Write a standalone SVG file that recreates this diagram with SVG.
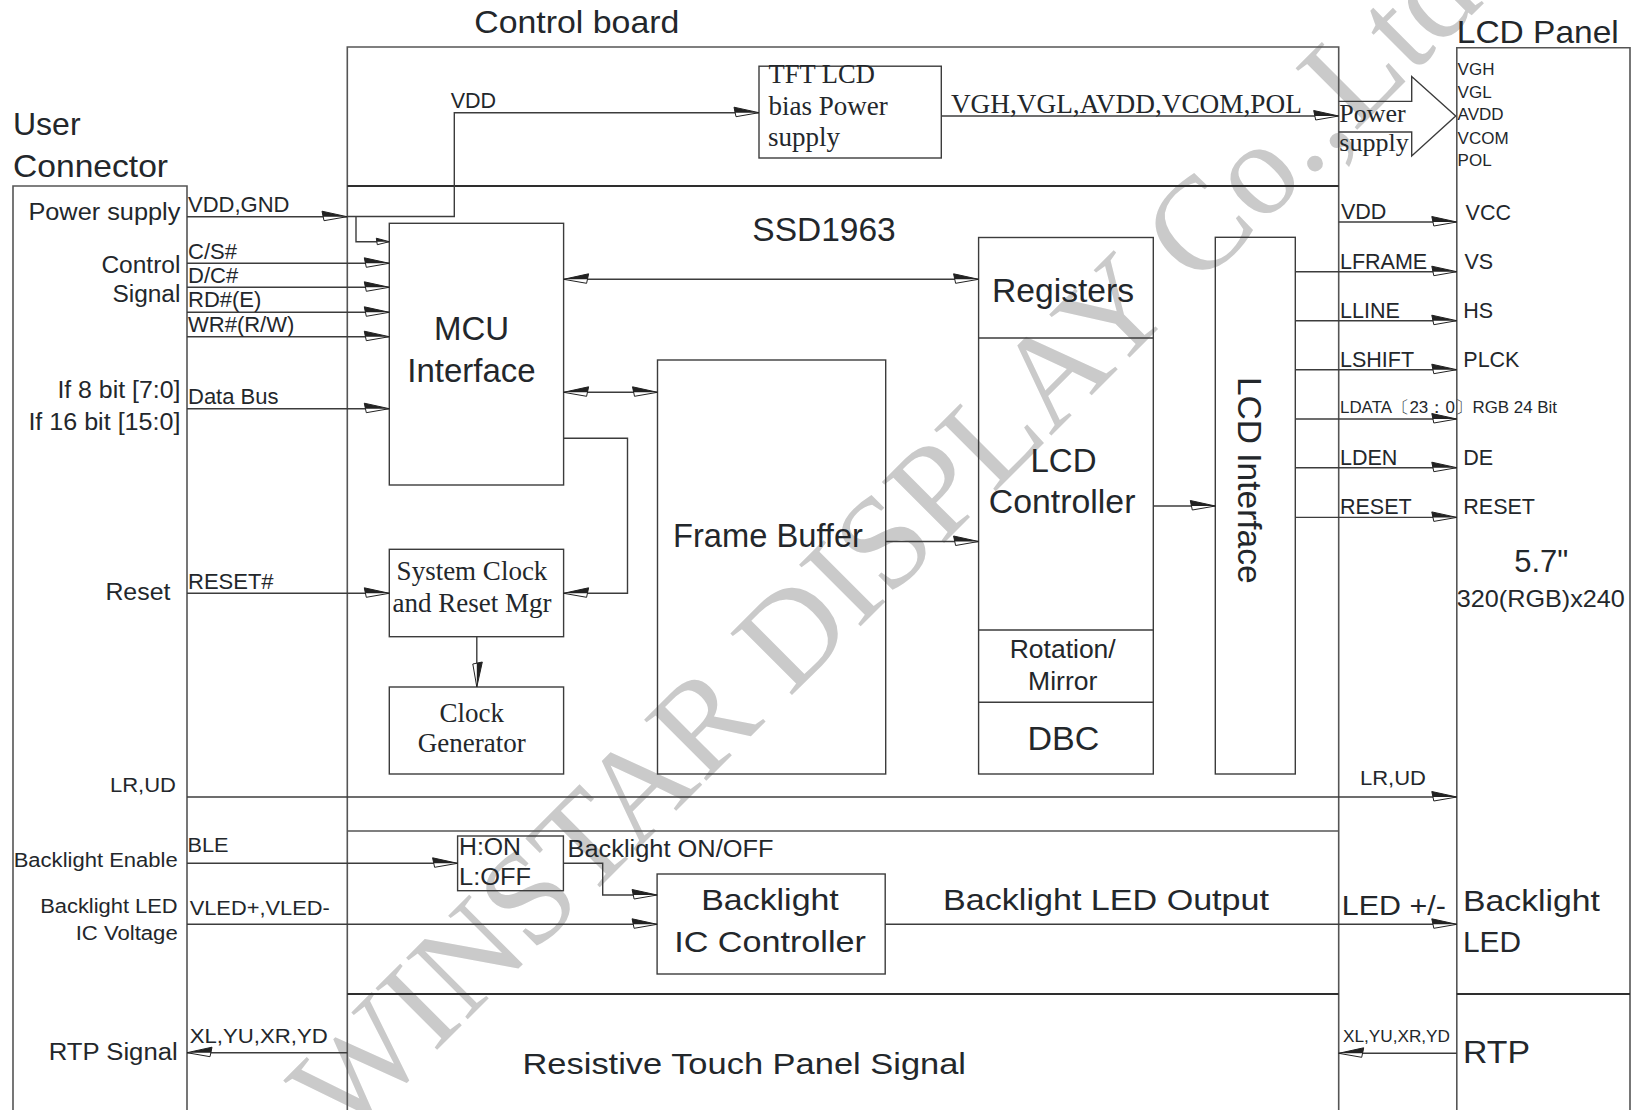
<svg xmlns="http://www.w3.org/2000/svg" width="1632" height="1110" viewBox="0 0 1632 1110">
<style>
.t{font-family:"Liberation Sans",Arial,sans-serif;fill:#23272b}
.s{font-family:"Liberation Serif","Times New Roman",serif;fill:#23272b}
.ln{fill:none;stroke:#3c3c3c;stroke-width:1.4}
.bx{fill:none;stroke:#3c3c3c;stroke-width:1.4}
.fr{fill:none;stroke:#555;stroke-width:1.6}
.dk{fill:none;stroke:#2e2e2e;stroke-width:2.2}
.wm{font-family:"Liberation Serif","Times New Roman",serif;fill:#cacaca}
.m{text-anchor:middle}
.e{text-anchor:end}
</style>
<defs>
<marker id="a" markerUnits="userSpaceOnUse" markerWidth="30" markerHeight="14" viewBox="-28 -7 30 14" refX="0" refY="0" orient="auto" overflow="visible">
<path d="M0,0 L-25,-5.5 L-23,4 Z" fill="#fff" stroke="#222" stroke-width="1"/>
<path d="M0,0 L-25,-5.5 L-24,0 Z" fill="#222"/>
</marker>
<marker id="as" markerUnits="userSpaceOnUse" markerWidth="30" markerHeight="14" viewBox="-2 -7 30 14" refX="0" refY="0" orient="auto" overflow="visible">
<path d="M0,0 L25,-5.5 L23,4 Z" fill="#fff" stroke="#222" stroke-width="1"/>
<path d="M0,0 L25,-5.5 L24,0 Z" fill="#222"/>
</marker>
<marker id="sm" markerUnits="userSpaceOnUse" markerWidth="16" markerHeight="8" viewBox="-15 -4 16 8" refX="0" refY="0" orient="auto" overflow="visible">
<path d="M0,0 L-13,-3.5 L-12,3 Z" fill="#fff" stroke="#222" stroke-width="1"/>
<path d="M0,0 L-13,-3.5 L-12.5,0 Z" fill="#222"/>
</marker>
</defs>
<rect width="1632" height="1110" fill="#fff"/>

<!-- watermark -->
<text class="wm m" font-size="133" transform="translate(915,572) rotate(-45)">WINSTAR DISPLAY Co.,Ltd</text>

<g id="user-connector">
<path class="fr" d="M13,1110 V186 H187 V1110"/>
<text class="t" x="13" y="135" font-size="32">User</text>
<text class="t" x="13" y="177" font-size="32" textLength="155" lengthAdjust="spacingAndGlyphs">Connector</text>
<text class="t e" x="180.4" y="220" font-size="23" textLength="152" lengthAdjust="spacingAndGlyphs">Power supply</text>
<text class="t e" x="180.4" y="273" font-size="23" textLength="79" lengthAdjust="spacingAndGlyphs">Control</text>
<text class="t e" x="180.4" y="302" font-size="23" textLength="68" lengthAdjust="spacingAndGlyphs">Signal</text>
<text class="t e" x="180.4" y="398" font-size="23" textLength="123" lengthAdjust="spacingAndGlyphs">If 8 bit [7:0]</text>
<text class="t e" x="180.4" y="430" font-size="23" textLength="152" lengthAdjust="spacingAndGlyphs">If 16 bit [15:0]</text>
<text class="t" x="105.4" y="600" font-size="23" textLength="65" lengthAdjust="spacingAndGlyphs">Reset</text>
<text class="t" x="110" y="791.7" font-size="21" textLength="66" lengthAdjust="spacingAndGlyphs">LR,UD</text>
<text class="t e" x="177.7" y="867" font-size="20" textLength="164" lengthAdjust="spacingAndGlyphs">Backlight Enable</text>
<text class="t e" x="177.7" y="913.3" font-size="20" textLength="137.5" lengthAdjust="spacingAndGlyphs">Backlight LED</text>
<text class="t e" x="177.7" y="940" font-size="20" textLength="102" lengthAdjust="spacingAndGlyphs">IC Voltage</text>
<text class="t e" x="177.7" y="1060" font-size="23" textLength="129" lengthAdjust="spacingAndGlyphs">RTP Signal</text>
</g>

<g id="control-board">
<path class="fr" d="M347.3,1110 V47 H1338.7 V1110"/>
<text class="t" x="474.3" y="32.7" font-size="32" textLength="205" lengthAdjust="spacingAndGlyphs">Control board</text>
<path class="dk" d="M347.3,186 H1338.7"/>
<path class="fr" d="M347.3,831 H1338.7"/>
<path class="dk" d="M347.3,994 H1338.7"/>
<text class="t m" x="824" y="240.7" font-size="33.5">SSD1963</text>
<text class="t" x="943" y="910" font-size="30" textLength="326" lengthAdjust="spacingAndGlyphs">Backlight LED Output</text>
<text class="t" x="522.5" y="1074" font-size="30" textLength="443.5" lengthAdjust="spacingAndGlyphs">Resistive Touch Panel Signal</text>
</g>

<g id="lcd-panel">
<path class="fr" d="M1456.8,1110 V47.7 H1630 V1110"/>
<path class="dk" d="M1456.8,994 H1630"/>
<text class="t" x="1456.8" y="42.7" font-size="32" textLength="162" lengthAdjust="spacingAndGlyphs">LCD Panel</text>
<text class="t" x="1457.6" y="75.4" font-size="17">VGH</text>
<text class="t" x="1457.6" y="98.4" font-size="17">VGL</text>
<text class="t" x="1457.6" y="120.2" font-size="17">AVDD</text>
<text class="t" x="1457.6" y="143.5" font-size="17">VCOM</text>
<text class="t" x="1457.6" y="165.7" font-size="17">POL</text>
<text class="t" x="1465.6" y="219.5" font-size="21.5">VCC</text>
<text class="t" x="1464.5" y="269" font-size="21.5">VS</text>
<text class="t" x="1463.3" y="318" font-size="21.5">HS</text>
<text class="t" x="1463.3" y="366.5" font-size="21.5">PLCK</text>
<text class="t" x="1463.3" y="465" font-size="21.5">DE</text>
<text class="t" x="1463.3" y="513.5" font-size="21.5">RESET</text>
<text class="t m" x="1541.3" y="571.7" font-size="31">5.7"</text>
<text class="t" x="1456.8" y="606.7" font-size="24" textLength="168" lengthAdjust="spacingAndGlyphs">320(RGB)x240</text>
<text class="t" x="1463" y="911" font-size="30" textLength="137" lengthAdjust="spacingAndGlyphs">Backlight</text>
<text class="t" x="1463" y="951.7" font-size="30" textLength="58" lengthAdjust="spacingAndGlyphs">LED</text>
<text class="t" x="1463" y="1063" font-size="31" textLength="67" lengthAdjust="spacingAndGlyphs">RTP</text>
</g>

<g id="tft-bias">
<rect class="bx" x="759" y="66.2" width="182.3" height="91.8"/>
<text class="s" x="768.6" y="83.3" font-size="26.5">TFT LCD</text>
<text class="s" x="768.6" y="115" font-size="27">bias Power</text>
<text class="s" x="767.9" y="146" font-size="27">supply</text>
</g>

<g id="mcu">
<rect class="bx" x="389.3" y="223.3" width="174.3" height="261.7"/>
<text class="t m" x="471.5" y="340" font-size="33">MCU</text>
<text class="t m" x="471.5" y="381.7" font-size="33">Interface</text>
</g>

<g id="sysclk">
<rect class="bx" x="389.3" y="549.3" width="174.3" height="87.4"/>
<text class="s m" x="472" y="580" font-size="27">System Clock</text>
<text class="s m" x="472" y="611.7" font-size="27">and Reset Mgr</text>
</g>

<g id="clkgen">
<rect class="bx" x="389.3" y="687" width="174.3" height="87"/>
<text class="s m" x="471.8" y="721.7" font-size="27">Clock</text>
<text class="s m" x="471.8" y="751.7" font-size="27">Generator</text>
</g>

<g id="frame-buffer">
<rect class="bx" x="657.5" y="360" width="228.2" height="414"/>
<text class="t m" x="768" y="547.3" font-size="33" textLength="190" lengthAdjust="spacingAndGlyphs">Frame Buffer</text>
</g>

<g id="lcd-controller">
<rect class="bx" x="978.6" y="237.5" width="174.7" height="536.5"/>
<path class="bx" d="M978.6,338 H1153.3 M978.6,630 H1153.3 M978.6,702.3 H1153.3"/>
<text class="t m" x="1063" y="301.6" font-size="33" textLength="142" lengthAdjust="spacingAndGlyphs">Registers</text>
<text class="t m" x="1063.5" y="471.5" font-size="33">LCD</text>
<text class="t m" x="1062.1" y="512.8" font-size="33" textLength="146.6" lengthAdjust="spacingAndGlyphs">Controller</text>
<text class="t m" x="1062.7" y="658.3" font-size="26.5">Rotation/</text>
<text class="t m" x="1062.7" y="690" font-size="26.5">Mirror</text>
<text class="t m" x="1063.4" y="750" font-size="34">DBC</text>
</g>

<g id="lcd-interface">
<rect class="bx" x="1215.3" y="237.3" width="80" height="536.7"/>
<text class="t m" font-size="33.5" transform="translate(1238,480.3) rotate(90)">LCD Interface</text>
</g>

<g id="hon">
<rect class="bx" x="457.6" y="836" width="105.8" height="54.7"/>
<text class="t" x="459" y="855" font-size="23" textLength="62" lengthAdjust="spacingAndGlyphs">H:ON</text>
<text class="t" x="459" y="885" font-size="23" textLength="72" lengthAdjust="spacingAndGlyphs">L:OFF</text>
</g>

<g id="backlight-ic">
<rect class="bx" x="657.1" y="874" width="228.1" height="100"/>
<text class="t m" x="770" y="910" font-size="30" textLength="137.5" lengthAdjust="spacingAndGlyphs">Backlight</text>
<text class="t m" x="770" y="951.7" font-size="30" textLength="191.7" lengthAdjust="spacingAndGlyphs">IC Controller</text>
</g>

<g id="connectors">
<path class="ln" d="M187,216.7 H347" marker-end="url(#a)"/>
<path class="ln" d="M347,216.5 H454.3 V112.7 H759" marker-end="url(#a)"/>
<path class="ln" d="M356,216.5 V241.7 H389.3" marker-end="url(#sm)"/>
<path class="ln" d="M187,263.3 H389.3" marker-end="url(#a)"/>
<path class="ln" d="M187,287.3 H389.3" marker-end="url(#a)"/>
<path class="ln" d="M187,312.3 H389.3" marker-end="url(#a)"/>
<path class="ln" d="M187,336.7 H389.3" marker-end="url(#a)"/>
<path class="ln" d="M187,408.7 H389.3" marker-end="url(#a)"/>
<path class="ln" d="M563.6,279.3 H978.6" marker-start="url(#as)" marker-end="url(#a)"/>
<path class="ln" d="M563.6,392.3 H657.5" marker-start="url(#as)" marker-end="url(#a)"/>
<path class="ln" d="M563.6,593.3 H627.5 V438.3 H563.6" marker-start="url(#as)"/>
<path class="ln" d="M187,593.3 H389.3" marker-end="url(#a)"/>
<path class="ln" d="M476.8,636.7 V687" marker-end="url(#a)"/>
<path class="ln" d="M885.7,541.5 H978.6" marker-end="url(#a)"/>
<path class="ln" d="M1153.3,506 H1215.3" marker-end="url(#a)"/>
<path class="ln" d="M941.3,116 H1338.7" marker-end="url(#a)"/>
<path class="ln" d="M1338.7,101.4 H1411.7 V76.5 L1455.7,116 L1411.7,156 V132 H1338.7"/>
<path class="ln" d="M1338.7,222 H1456.8" marker-end="url(#a)"/>
<path class="ln" d="M1295.3,271.7 H1456.8" marker-end="url(#a)"/>
<path class="ln" d="M1295.3,320.7 H1456.8" marker-end="url(#a)"/>
<path class="ln" d="M1295.3,369.7 H1456.8" marker-end="url(#a)"/>
<path class="ln" d="M1295.3,419 H1456.8" marker-end="url(#a)"/>
<path class="ln" d="M1295.3,467.7 H1456.8" marker-end="url(#a)"/>
<path class="ln" d="M1295.3,517.4 H1456.8" marker-end="url(#a)"/>
<path class="ln" d="M187,797 H1456.8" marker-end="url(#a)"/>
<path class="ln" d="M187,863.3 H457.6" marker-end="url(#a)"/>
<path class="ln" d="M563.4,863.3 H602.7 V895 H657.1" marker-end="url(#a)"/>
<path class="ln" d="M187,924.3 H657.1" marker-end="url(#a)"/>
<path class="ln" d="M885.2,924.3 H1456.8" marker-end="url(#a)"/>
<path class="ln" d="M1338.7,1053.3 H1456.8" marker-start="url(#as)"/>
<path class="ln" d="M187,1052.7 H347.3" marker-start="url(#as)"/>

<text class="t" x="188" y="211.7" font-size="22">VDD,GND</text>
<text class="t" x="450.7" y="108.3" font-size="21.5">VDD</text>
<text class="t" x="188" y="259.3" font-size="22">C/S#</text>
<text class="t" x="188" y="283.3" font-size="22">D/C#</text>
<text class="t" x="188" y="306.7" font-size="22">RD#(E)</text>
<text class="t" x="188" y="331.7" font-size="22">WR#(R/W)</text>
<text class="t" x="188" y="404" font-size="22">Data Bus</text>
<text class="t" x="188" y="589.3" font-size="22">RESET#</text>
<text class="s" x="950.9" y="113" font-size="27" textLength="351" lengthAdjust="spacingAndGlyphs">VGH,VGL,AVDD,VCOM,POL</text>
<text class="s" x="1339.3" y="121.7" font-size="26">Power</text>
<text class="s" x="1339.3" y="151" font-size="26">supply</text>
<text class="t" x="1341" y="219" font-size="21.5">VDD</text>
<text class="t" x="1340" y="269" font-size="21.5">LFRAME</text>
<text class="t" x="1340" y="318" font-size="21.5">LLINE</text>
<text class="t" x="1340" y="366.6" font-size="21.5">LSHIFT</text>
<text class="t" x="1340" y="413.3" font-size="16.5" textLength="217" lengthAdjust="spacingAndGlyphs">LDATA〔23：0〕RGB 24 Bit</text>
<text class="t" x="1340" y="465" font-size="21.5">LDEN</text>
<text class="t" x="1340" y="513.5" font-size="21.5">RESET</text>
<text class="t" x="1360" y="785" font-size="21" textLength="66" lengthAdjust="spacingAndGlyphs">LR,UD</text>
<text class="t" x="187.5" y="851.7" font-size="20" textLength="41" lengthAdjust="spacingAndGlyphs">BLE</text>
<text class="t" x="567.5" y="856.7" font-size="23" textLength="206" lengthAdjust="spacingAndGlyphs">Backlight ON/OFF</text>
<text class="t" x="189.7" y="915" font-size="20" textLength="140" lengthAdjust="spacingAndGlyphs">VLED+,VLED-</text>
<text class="t" x="1341.8" y="915" font-size="28" textLength="104" lengthAdjust="spacingAndGlyphs">LED +/-</text>
<text class="t" x="1343" y="1042.3" font-size="16" textLength="107" lengthAdjust="spacingAndGlyphs">XL,YU,XR,YD</text>
<text class="t" x="189.7" y="1043.3" font-size="20" textLength="138" lengthAdjust="spacingAndGlyphs">XL,YU,XR,YD</text>
</g>
</svg>
